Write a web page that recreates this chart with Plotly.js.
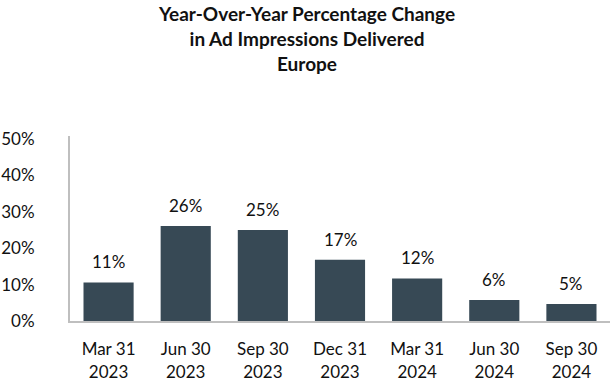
<!DOCTYPE html>
<html><head><meta charset="utf-8">
<script src="https://cdn.plot.ly/plotly-3.0.1.min.js"></script>
<style>html,body{margin:0;padding:0;background:#fff}#chart{width:614px;height:384px}</style>
</head><body><div id="chart"></div>
<script>
const categories = ["Mar 31<br>2023","Jun 30<br>2023","Sep 30<br>2023","Dec 31<br>2023","Mar 31<br>2024","Jun 30<br>2024","Sep 30<br>2024"];
const values = [10.6, 26.1, 25.0, 16.8, 11.7, 5.8, 4.7];
const labels = ["11%","26%","25%","17%","12%","6%","5%"];
const yTickVals = [0,10,20,30,40,50];
const yTickText = ["0%","10%","20%","30%","40%","50%"];

const FONT = "Lato, 'Open Sans', sans-serif";
const trace = {
  type: "bar", x: categories, y: values,
  marker: {color: "#374955"}, hoverinfo: "skip"
};
const annotations = categories.map((c, i) => ({
  x: c, y: values[i], xref: "x", yref: "y", text: labels[i],
  showarrow: false, yanchor: "bottom", yshift: 8,
  font: {family: FONT, size: 17, color: "#111"}
}));
const layoutTitle = {
  text: "<b>Year-Over-Year Percentage Change<br>in Ad Impressions Delivered<br>Europe</b>",
  x: 0.5, xref: "container", xanchor: "center",
  y: 0.945, yref: "container", yanchor: "middle",
  font: {family: FONT, size: 19, color: "#111"}
};
const layout = {
  width: 614, height: 384,
  margin: {l: 70, r: 4, t: 136, b: 63},
  paper_bgcolor: "#fff", plot_bgcolor: "#fff",
  bargap: 0.35, showlegend: false,
  title: layoutTitle,
  xaxis: {
    showline: true, linecolor: "#bfbfbf", linewidth: 2,
    showgrid: false, ticks: "", tickfont: {family: FONT, size: 17, color: "#111"},
    ticklabelstandoff: 12, fixedrange: true
  },
  yaxis: {
    range: [0, 50.8], showline: true, linecolor: "#bfbfbf", linewidth: 2,
    showgrid: false, zeroline: false, ticks: "",
    tickvals: yTickVals, ticktext: yTickText,
    tickfont: {family: FONT, size: 17, color: "#111"},
    ticklabelstandoff: 30, fixedrange: true
  },
  annotations: annotations,
  font: {family: FONT}
};
Plotly.newPlot("chart", [trace], layout, {displayModeBar: false, staticPlot: true});
</script></body></html>
